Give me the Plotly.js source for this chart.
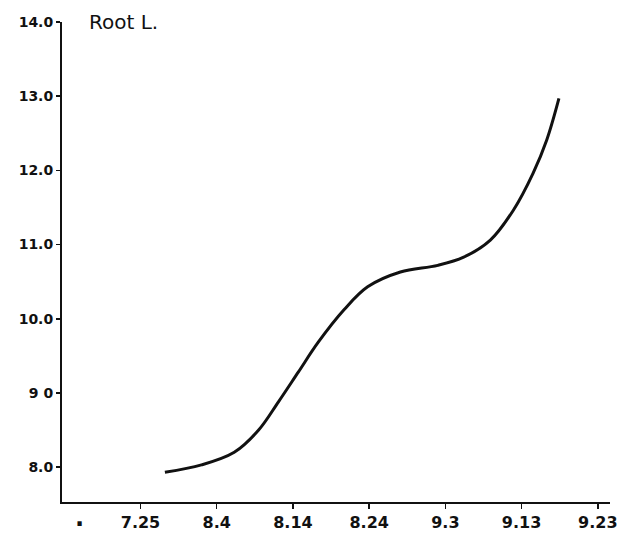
<!DOCTYPE html>
<html>
<head>
<meta charset="utf-8">
<script src="https://cdn.plot.ly/plotly-3.0.1.min.js"></script>
<style>html,body{margin:0;padding:0;background:#fff;}#chart{width:628px;height:541px;}</style>
</head>
<body>
<div id="chart"></div>
<script>
// Dates along the x axis (category positions 1..7)
const dateLabels = ["7.25", "8.4", "8.14", "8.24", "9.3", "9.13", "9.23"];
const datePositions = [1, 2, 3, 4, 5, 6, 7];
// Y axis tick values and labels
const yTickVals = [8, 9, 10, 11, 12, 13, 14];
const yTickText = ["8.0", "9 0", "10.0", "11.0", "12.0", "13.0", "14.0"];
// Root length curve
const curveX = [1.32, 1.80, 2.23, 2.55, 2.81, 3.07, 3.33, 3.67, 3.98, 4.41, 4.90, 5.24, 5.59, 5.89, 6.15, 6.33, 6.49];
const curveY = [7.93, 8.03, 8.20, 8.50, 8.88, 9.28, 9.68, 10.12, 10.43, 10.63, 10.72, 10.83, 11.06, 11.46, 11.96, 12.41, 12.97];

const fontFam = "DejaVu Sans, sans-serif";

const trace = {
  x: curveX, y: curveY, type: "scatter", mode: "lines",
  line: {color: "#111", width: 3, shape: "spline", smoothing: 1.0},
  hoverinfo: "skip"
};

const layout = {
  width: 628, height: 541,
  margin: {l: 62, r: 18, t: 22, b: 39},
  paper_bgcolor: "#fff", plot_bgcolor: "#fff",
  showlegend: false,
  xaxis: {
    range: [-0.03, 7.16], tickvals: datePositions, ticktext: dateLabels,
    showgrid: false, zeroline: false, showline: true, linecolor: "#111", linewidth: 2,
    ticks: "outside", ticklen: 5, tickwidth: 1.5, tickcolor: "#111",
    tickfont: {family: fontFam, size: 16, color: "#111", weight: "bold"}
  },
  yaxis: {
    range: [7.53, 14.0], tickvals: yTickVals, ticktext: yTickText,
    showgrid: false, zeroline: false, showline: true, linecolor: "#111", linewidth: 2,
    ticks: "outside", ticklen: 4, tickwidth: 1.5, tickcolor: "#111",
    tickfont: {family: fontFam, size: 14, color: "#111", weight: "bold"}
  },
  shapes: [
    {type: "path", xref: "paper", yref: "y",
     path: "M -0.012 7.84 Q 0.0 7.80 -0.004 7.76 Q -0.008 7.72 0.006 7.70",
     line: {color: "#fff", width: 0}},
  ],
  annotations: [
    {text: "Root L.", xref: "paper", yref: "paper", x: 0.045, y: 1.0, xanchor: "left", yanchor: "middle",
     showarrow: false, font: {family: fontFam, size: 20, color: "#111"}},
    {text: "·", xref: "x", yref: "paper", x: 0.2, y: -0.045, xanchor: "center", yanchor: "middle",
     showarrow: false, font: {family: fontFam, size: 24, color: "#111", weight: "bold"}}
  ]
};

Plotly.newPlot("chart", [trace], layout, {displayModeBar: false, staticPlot: true});
</script>
</body>
</html>
